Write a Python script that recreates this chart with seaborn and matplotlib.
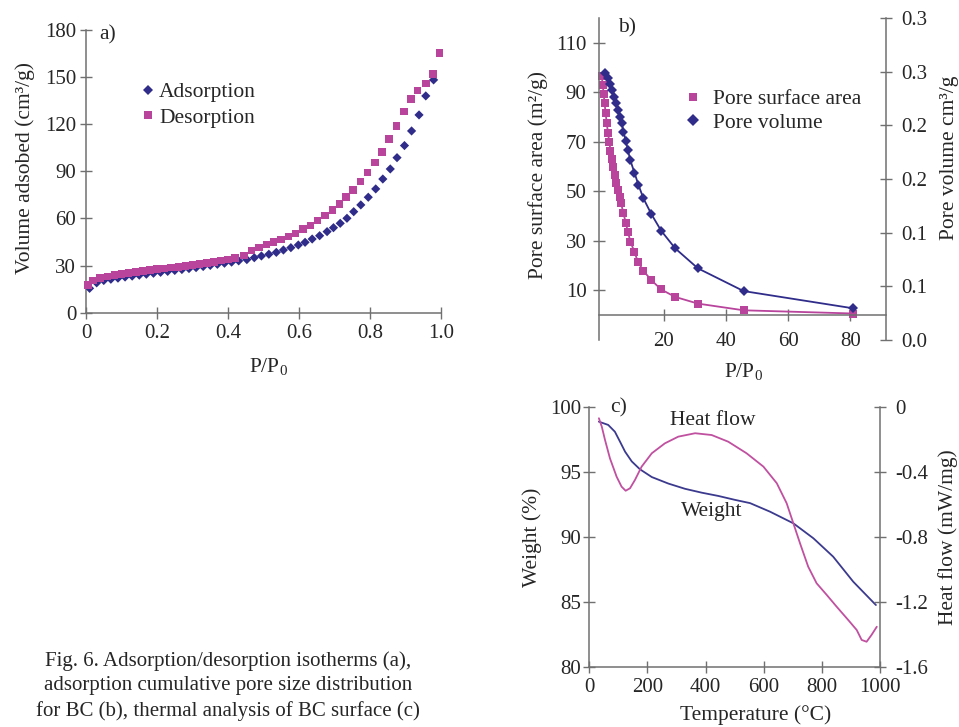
import matplotlib
matplotlib.use('Agg')
import matplotlib.pyplot as plt
import seaborn as sns
import pandas as pd
from matplotlib.lines import Line2D

# ---------------- data ----------------
# panel a: isotherms
ads_x = [0.01, 0.03, 0.05, 0.07, 0.09, 0.11, 0.13, 0.15, 0.17, 0.19, 0.21, 0.23, 0.25,
         0.27, 0.29, 0.31, 0.33, 0.35, 0.37, 0.39, 0.41, 0.43, 0.453, 0.474, 0.494, 0.515,
         0.536, 0.556, 0.577, 0.598, 0.617, 0.637, 0.658, 0.679, 0.697, 0.716, 0.735, 0.754,
         0.774, 0.795, 0.816, 0.836, 0.857, 0.876, 0.897, 0.917, 0.938, 0.957, 0.979]
ads_y = [15.5, 19.0, 20.5, 21.3, 22.0, 22.7, 23.3, 23.9, 24.5, 25.1, 25.7, 26.3, 26.9,
         27.5, 28.1, 28.7, 29.4, 30.1, 30.8, 31.5, 32.2, 33.0, 33.8, 35.0, 36.1, 37.2,
         38.4, 39.9, 41.4, 43.1, 44.8, 46.9, 49.0, 51.6, 54.1, 56.9, 60.1, 64.3,
         68.6, 73.5, 78.8, 85.1, 91.5, 98.7, 106.4, 115.7, 125.9, 138.0, 148.2]
des_x = [0.005, 0.02, 0.04, 0.06, 0.08, 0.10, 0.12, 0.14, 0.16, 0.18, 0.20, 0.22, 0.24,
         0.26, 0.28, 0.30, 0.32, 0.34, 0.36, 0.38, 0.40, 0.42, 0.445, 0.466, 0.487, 0.508,
         0.528, 0.549, 0.570, 0.590, 0.611, 0.632, 0.652, 0.673, 0.694, 0.714, 0.733, 0.752,
         0.773, 0.793, 0.814, 0.833, 0.853, 0.874, 0.895, 0.915, 0.934, 0.957, 0.977, 0.996]
des_y = [17.5, 20.5, 22.0, 23.0, 24.0, 24.7, 25.3, 25.9, 26.5, 27.1, 27.7, 28.2, 28.7,
         29.2, 29.8, 30.4, 31.0, 31.7, 32.4, 33.1, 33.9, 34.7, 36.5, 39.5, 41.5, 43.5,
         45.0, 46.7, 48.4, 50.5, 53.1, 55.6, 58.6, 61.8, 65.4, 69.2, 73.5, 78.1,
         83.4, 89.2, 95.5, 102.3, 110.4, 118.9, 128.0, 135.9, 141.4, 146.0, 152.0, 165.2]

# panel b: cumulative pore size distribution
area_x = [0.1, 0.4, 0.7, 1.0, 1.35, 1.7, 2.1, 2.5, 2.9, 3.35, 3.8, 4.3, 4.8, 5.3, 5.8, 6.3,
          7.07, 7.85, 8.5, 9.3, 10.6, 11.7, 13.5, 16.0, 19.2, 23.7, 31.0, 45.7, 81.0]
area_y = [96.5, 93.0, 89.5, 85.5, 81.5, 77.5, 73.5, 70.0, 66.5, 63.0, 60.0, 56.5, 53.5, 50.5,
          47.8, 45.2, 41.2, 37.1, 33.7, 29.7, 25.6, 21.6, 17.9, 14.2, 10.4, 7.4, 4.7, 2.0, 0.7]
vol_x = [1.19, 2.06, 2.8, 3.54, 4.18, 4.73, 5.27, 6.0, 6.56, 7.07, 7.85, 8.49, 9.23, 10.6,
         11.9, 13.5, 16.0, 19.2, 23.7, 31.0, 45.7, 81.0]
vol_y = [0.2485, 0.2438, 0.2385, 0.2330, 0.2268, 0.2206, 0.2144, 0.2081, 0.2019, 0.1941,
         0.1853, 0.1771, 0.1679, 0.1559, 0.1444, 0.1319, 0.1175, 0.1018, 0.0854, 0.0668,
         0.0456, 0.0295]

# panel c: thermal analysis
temp_w = [33, 65, 88, 106, 123, 146, 174, 215, 272, 329, 387, 444, 501, 553, 622, 702,
          771, 839, 908, 986]
weight = [98.85, 98.6, 98.08, 97.3, 96.55, 95.8, 95.2, 94.6, 94.1, 93.7, 93.4, 93.15,
          92.85, 92.6, 91.94, 91.05, 89.9, 88.49, 86.57, 84.78]
temp_h = [33, 43, 54, 71, 94, 111, 125, 140, 157, 180, 215, 260, 306, 364, 421, 478, 541,
          599, 645, 679, 702, 725, 753, 782, 817, 851, 891, 920, 937, 954, 971, 989]
heat = [-0.071, -0.123, -0.204, -0.317, -0.43, -0.491, -0.516, -0.501, -0.45, -0.368,
        -0.286, -0.225, -0.184, -0.163, -0.174, -0.215, -0.286, -0.368, -0.47, -0.593,
        -0.716, -0.839, -0.982, -1.084, -1.156, -1.228, -1.31, -1.371, -1.432, -1.443,
        -1.401, -1.351]

b_left_ticks = [10, 30, 50, 70, 90, 110]
b_right_ticks = [0.0, 0.05, 0.10, 0.15, 0.20, 0.25, 0.30]
b_right_labels = ['0.0', '0.1', '0.1', '0.2', '0.2', '0.3', '0.3']
c_right_ticks = [0, -0.4, -0.8, -1.2, -1.6]

caption = ("Fig. 6. Adsorption/desorption isotherms (a),\n"
           "adsorption cumulative pore size distribution\n"
           "for BC (b), thermal analysis of BC surface (c)")

# ---------------- style ----------------
sns.set_style('white')
plt.rcParams['font.family'] = ['Liberation Serif', 'DejaVu Serif']
plt.rcParams['mathtext.fontset'] = 'custom'
plt.rcParams['mathtext.rm'] = 'Liberation Serif'
plt.rcParams['axes.unicode_minus'] = False

C_BLUE = '#2f2c8a'
C_MAG = '#b8449c'
C_SPINE = '#707070'
FS = 15
FSL = 15.5


def style_spines(ax, visible):
    for k, sp in ax.spines.items():
        sp.set_visible(k in visible)
        sp.set_color(C_SPINE)
        sp.set_linewidth(1.1)


fig = plt.figure(figsize=(9.59, 7.27), dpi=100)

# ---------------- panel a ----------------
axa = fig.add_axes([0.0897, 0.5699, 0.3702, 0.3889])
da = pd.DataFrame({'x': ads_x, 'y': ads_y})
dd = pd.DataFrame({'x': des_x, 'y': des_y})
sns.scatterplot(data=da, x='x', y='y', marker='D', s=22, color=C_BLUE, edgecolor='none',
                ax=axa, clip_on=False, zorder=3)
sns.scatterplot(data=dd, x='x', y='y', marker='s', s=30, color=C_MAG, edgecolor='none',
                ax=axa, clip_on=False, zorder=4)
axa.set_xlim(0, 1.0)
axa.set_ylim(0, 180)
axa.set_xticks([0, 0.2, 0.4, 0.6, 0.8, 1.0])
axa.set_xticklabels(['0', '0.2', '0.4', '0.6', '0.8', '1.0'])
axa.set_yticks([0, 30, 60, 90, 120, 150, 180])
style_spines(axa, ['left', 'bottom'])
axa.tick_params(axis='both', direction='inout', length=8, width=1, color=C_SPINE,
                labelsize=FS, left=True, bottom=True)
axa.tick_params(axis='y', pad=3)
axa.tick_params(axis='x', pad=4)
axa.set_xlabel('P/P$_{0}$', fontsize=FSL)
axa.set_ylabel('Volume adsobed (cm³/g)', fontsize=FSL)
axa.yaxis.set_label_coords(-0.144, 0.51)
axa.xaxis.set_label_coords(0.513, -0.155)
axa.text(0.062, 0.982, 'a)', transform=axa.transAxes, fontsize=FSL, ha='center', va='center')
ha = [Line2D([], [], marker='D', color=C_BLUE, linestyle='none', markersize=5.5, markeredgewidth=0),
      Line2D([], [], marker='s', color=C_MAG, linestyle='none', markersize=6, markeredgewidth=0)]
axa.legend(ha, ['Adsorption', 'Desorption'], frameon=False, loc='upper left',
           bbox_to_anchor=(0.127, 0.845), borderaxespad=0, fontsize=FSL,
           handlelength=0.8, handletextpad=0.1, labelspacing=0.25)

# ---------------- panel b ----------------
axb = fig.add_axes([0.6246, 0.5323, 0.2993, 0.4429])
dsa = pd.DataFrame({'x': area_x, 'y': area_y})
sns.lineplot(data=dsa, x='x', y='y', sort=False, color=C_MAG, linewidth=1.3, marker='s',
             markersize=5.2, markeredgewidth=0, ax=axb, clip_on=False)
axb.set_xlim(-0.8, 91.5)
axb.set_ylim(-10, 120)
axb.set_yticks(b_left_ticks)
axb.set_xticks([20, 40, 60, 80])
style_spines(axb, ['left', 'bottom'])
axb.spines['bottom'].set_position(('data', 0))
axb.tick_params(axis='both', direction='inout', length=8, width=1, color=C_SPINE,
                labelsize=FS, left=True, bottom=True)
axb.tick_params(axis='y', pad=5)
axb.tick_params(axis='x', pad=8)
axb.set_xlabel('P/P$_{0}$', fontsize=FSL)
axb.set_ylabel('Pore surface area (m²/g)', fontsize=FSL)
axb.yaxis.set_label_coords(-0.178, 0.514)
axb.xaxis.set_label_coords(0.502, -0.065)
axb.text(0.099, 0.969, 'b)', transform=axb.transAxes, fontsize=FSL, ha='center', va='center')

axb2 = axb.twinx()
dpv = pd.DataFrame({'x': vol_x, 'y': vol_y})
sns.lineplot(data=dpv, x='x', y='y', sort=False, color=C_BLUE, linewidth=1.3, marker='D',
             markersize=5, markeredgewidth=0, ax=axb2, clip_on=False)
axb2.set_ylim(0, 0.30)
axb2.set_yticks(b_right_ticks)
axb2.set_yticklabels(b_right_labels)
style_spines(axb2, ['right'])
axb2.tick_params(axis='y', direction='inout', length=8, width=1, color=C_SPINE,
                 labelsize=FS, right=True, pad=7)
axb2.set_xlabel('')
axb2.set_ylabel('Pore volume cm³/g', fontsize=FSL)
axb2.yaxis.set_label_coords(1.188, 0.567)
hb = [Line2D([], [], marker='s', color=C_MAG, linestyle='none', markersize=6, markeredgewidth=0),
      Line2D([], [], marker='D', color=C_BLUE, linestyle='none', markersize=6, markeredgewidth=0)]
axb2.legend(hb, ['Pore surface area', 'Pore volume'], frameon=False, loc='upper left',
            bbox_to_anchor=(0.268, 0.805), borderaxespad=0, fontsize=FSL,
            handlelength=0.8, handletextpad=0.5, labelspacing=0.15)

# ---------------- panel c ----------------
axc = fig.add_axes([0.6145, 0.0821, 0.3031, 0.3585])
dw = pd.DataFrame({'T': temp_w, 'W': weight})
sns.lineplot(data=dw, x='T', y='W', sort=False, color='#3b3a8e', linewidth=1.3, ax=axc)
axc.set_xlim(0, 1000)
axc.set_ylim(80, 100)
axc.set_xticks([0, 200, 400, 600, 800, 1000])
axc.set_yticks([80, 85, 90, 95, 100])
style_spines(axc, ['left', 'bottom'])
axc.tick_params(axis='both', direction='inout', length=8, width=1, color=C_SPINE,
                labelsize=FS, left=True, bottom=True)
axc.tick_params(axis='y', pad=2)
axc.tick_params(axis='x', pad=4)
axc.set_xlabel('Temperature (°C)', fontsize=FSL)
axc.set_ylabel('Weight (%)', fontsize=FSL)
axc.yaxis.set_label_coords(-0.163, 0.498)
axc.xaxis.set_label_coords(0.573, -0.145)
axc.text(0.101, 0.997, 'c)', transform=axc.transAxes, fontsize=FSL, ha='center', va='center')
axc.text(426, 98.93, 'Heat flow', fontsize=FSL, ha='center', va='center')
axc.text(421, 91.94, 'Weight', fontsize=FSL, ha='center', va='center')

axc2 = axc.twinx()
dh = pd.DataFrame({'T': temp_h, 'H': heat})
sns.lineplot(data=dh, x='T', y='H', sort=False, color='#c050a0', linewidth=1.3, ax=axc2)
axc2.set_ylim(-1.6, 0)
axc2.set_yticks(c_right_ticks)
axc2.set_yticklabels(['0', '-0.4', '-0.8', '-1.2', '-1.6'])
style_spines(axc2, ['right'])
axc2.tick_params(axis='y', direction='inout', length=8, width=1, color=C_SPINE,
                 labelsize=FS, right=True, pad=7)
axc2.set_ylabel('Heat flow (mW/mg)', fontsize=FSL)
axc2.yaxis.set_label_coords(1.20, 0.5)

# ---------------- caption ----------------
fig.text(228 / 959, 1 - 686 / 727, caption, ha='center', va='center', fontsize=FS,
         multialignment='center', linespacing=1.38)

fig.savefig('out.png', dpi=100)
